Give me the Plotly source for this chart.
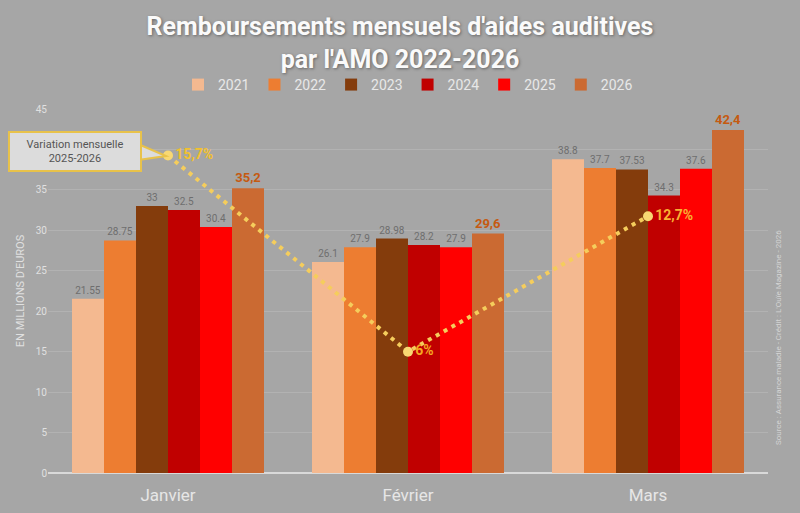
import plotly.graph_objects as go

mois = ["Janvier", "Février", "Mars"]
annees = ["2021", "2022", "2023", "2024", "2025", "2026"]
valeurs = {
    "2021": [21.55, 26.1, 38.8],
    "2022": [28.75, 27.9, 37.7],
    "2023": [33, 28.98, 37.53],
    "2024": [32.5, 28.2, 34.3],
    "2025": [30.4, 27.9, 37.6],
    "2026": [35.2, 29.6, 42.4],
}
variation = [15.7, 6, 12.7]
variation_txt = ["15,7%", "6%", "12,7%"]

couleurs = ["#F4B990", "#ED7D31", "#843C0C", "#C00000", "#FF0000", "#CB6A32"]
couleurs_var = ["#F2C12E", "#F5A623", "#F9B233"]

fig = go.Figure()

for an, coul in zip(annees, couleurs):
    if an == "2026":
        fig.add_trace(go.Bar(
            x=mois, y=valeurs[an], name=an, marker=dict(color=coul, line=dict(width=0)),
            text=[str(v).replace(".", ",") for v in valeurs[an]],
            textposition="outside",
            textfont=dict(color="#C55A11", size=13, family="Roboto", weight="bold"),
            cliponaxis=False,
        ))
    else:
        fig.add_trace(go.Bar(
            x=mois, y=valeurs[an], name=an, marker=dict(color=coul, line=dict(width=0)),
            text=[str(v) for v in valeurs[an]],
            textposition="outside",
            textfont=dict(color="#6E6E6E", size=10, family="Roboto"),
            cliponaxis=False,
        ))

fig.add_trace(go.Scatter(
    x=mois, y=variation, yaxis="y2", mode="lines+markers+text",
    line=dict(color="#F5CD5C", width=4, dash="4px,5px"),
    marker=dict(color="#F8D872", size=10),
    text=variation_txt, textposition="middle right",
    textfont=dict(color=couleurs_var, size=14, family="Roboto", weight="bold"),
    showlegend=False, cliponaxis=False,
))

fig.update_layout(
    width=800, height=513,
    paper_bgcolor="#A6A6A6", plot_bgcolor="#A6A6A6",
    margin=dict(l=48, r=32, t=109, b=40),
    font=dict(family="Roboto", color="#E6E6E6"),
    barmode="group", bargap=0.2, bargroupgap=0,
    title=dict(
        text="Remboursements mensuels d'aides auditives<br>par l'AMO 2022-2026",
        x=0.5, xanchor="center", y=1 - 35 / 513, yanchor="middle",
        font=dict(size=25, color="#FAFAFA", family="Roboto", weight="bold",
                  shadow="1px 1px 3px #666"),
    ),
    legend=dict(
        orientation="h", x=0.5, xanchor="center", y=1.066, yanchor="middle",
        font=dict(size=14, color="#E8E8E8"), bgcolor="rgba(0,0,0,0)",
        traceorder="normal", itemwidth=30,
    ),
    xaxis=dict(
        tickfont=dict(size=17, color="#E6E6E6"), showgrid=False,
        showline=False, ticks="", ticklabelstandoff=10, automargin=False,
    ),
    yaxis=dict(
        range=[0, 45], dtick=5, tickfont=dict(size=10, color="#E0E0E0"),
        gridcolor="#B2B2B2", gridwidth=1, zeroline=True, zerolinecolor="#D9D9D9",
        zerolinewidth=2, automargin=False,
        title=dict(text="EN MILLIONS D'EUROS", font=dict(size=11, color="#E0E0E0"), standoff=8),
    ),
    yaxis2=dict(
        overlaying="y", range=[0, 18], visible=False, showgrid=False,
    ),
    shapes=[
        dict(
            type="path", xref="paper", yref="paper",
            path="M %f %f L %f %f L %f %f Z" % (
                (138 - 48) / 720, (473 - 144) / 364,
                (166 - 48) / 720, (473 - 156) / 364,
                (138 - 48) / 720, (473 - 160) / 364,
            ),
            fillcolor="#DCDCDC", line=dict(color="#E8C24A", width=2), layer="above",
        ),
    ],
    annotations=[
        dict(
            text="Variation mensuelle<br>2025-2026", xref="paper", yref="paper",
            x=(75 - 48) / 720, y=(473 - 151) / 364, xanchor="center", yanchor="middle",
            showarrow=False, align="center",
            font=dict(size=11, color="#555555"), bgcolor="#DCDCDC",
            bordercolor="#E8C24A", borderwidth=2, borderpad=5, width=120,
        ),
        dict(
            text="Source : Assurance maladie - Crédit : L'Ouïe Magazine - 2026",
            xref="paper", yref="paper", x=(778 - 48) / 720, y=(473 - 338) / 364,
            xanchor="center", yanchor="middle",
            showarrow=False, textangle=-90, font=dict(size=8, color="#D4D4D4"),
        ),
    ],
)

fig.write_html("out.html", config={"displayModeBar": False},
               post_script="document.body.style.margin='0';")
